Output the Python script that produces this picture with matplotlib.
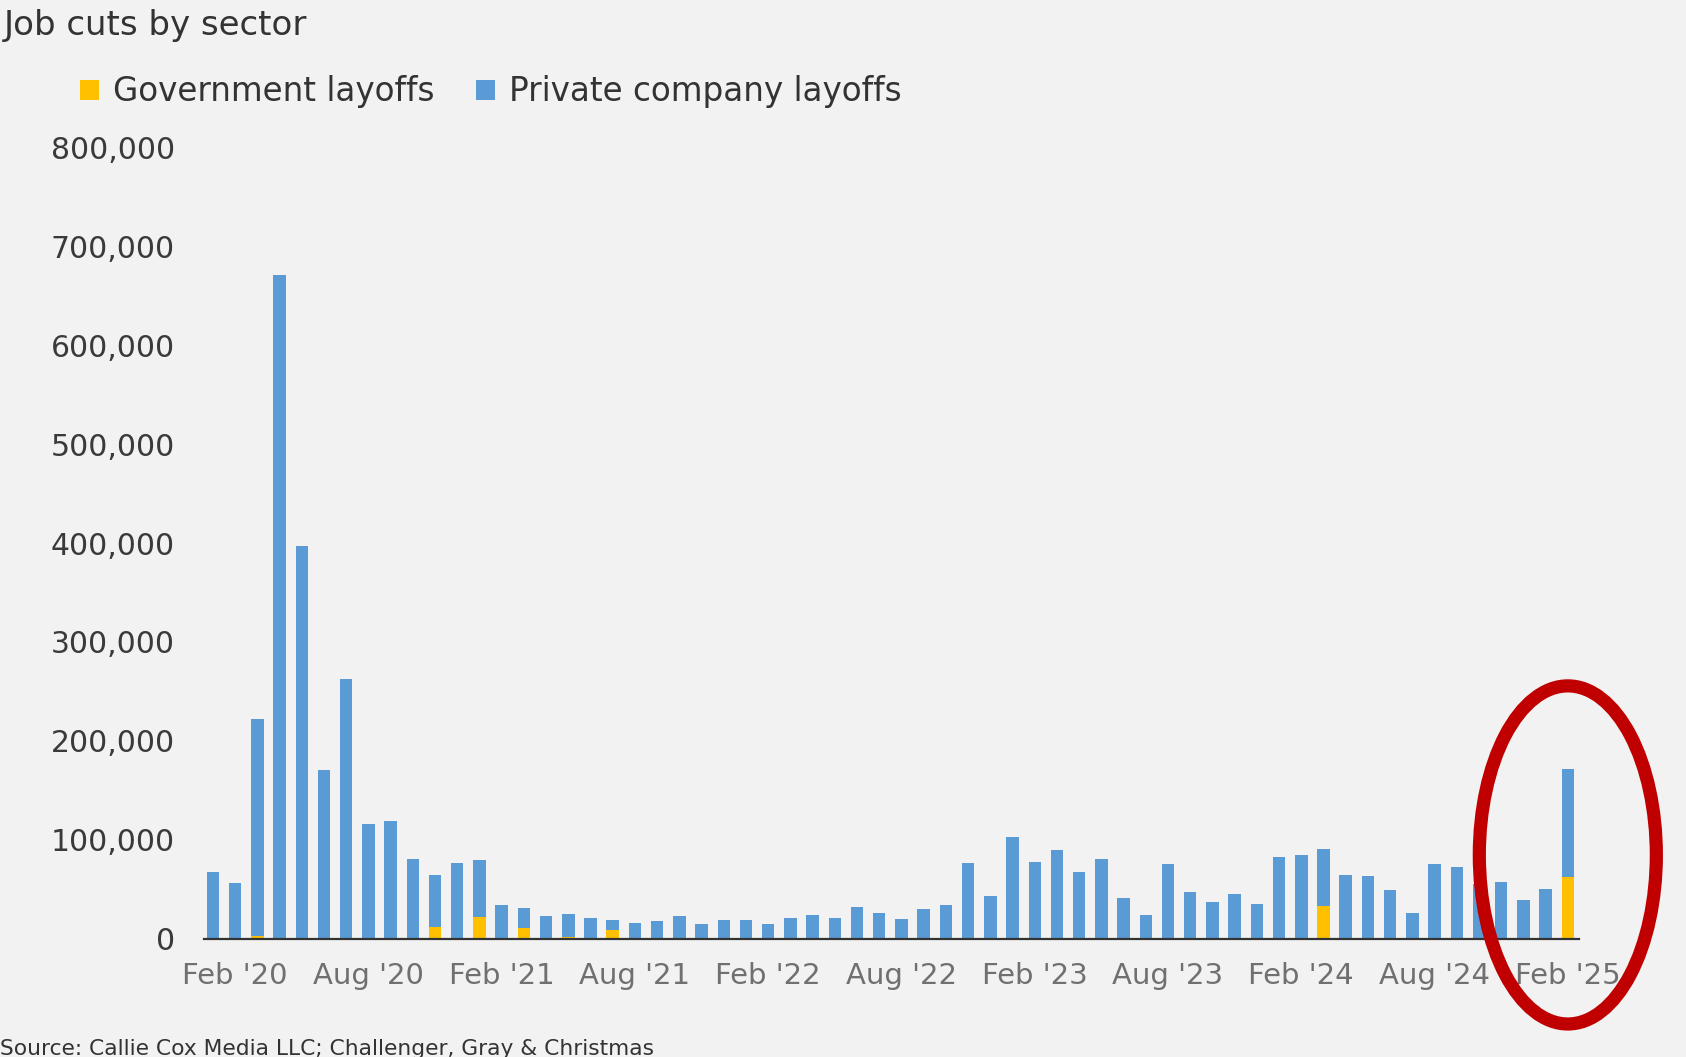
import numpy as np
import matplotlib.pyplot as plt
from matplotlib.patches import Patch, Ellipse

plt.rcParams["font.family"] = ["DejaVu Sans"]

# Monthly job cuts, Jan 2020 .. Feb 2025
months = ["Jan '20", "Feb '20", "Mar '20", "Apr '20", "May '20", "Jun '20",
          "Jul '20", "Aug '20", "Sep '20", "Oct '20", "Nov '20", "Dec '20",
          "Jan '21", "Feb '21", "Mar '21", "Apr '21", "May '21", "Jun '21",
          "Jul '21", "Aug '21", "Sep '21", "Oct '21", "Nov '21", "Dec '21",
          "Jan '22", "Feb '22", "Mar '22", "Apr '22", "May '22", "Jun '22",
          "Jul '22", "Aug '22", "Sep '22", "Oct '22", "Nov '22", "Dec '22",
          "Jan '23", "Feb '23", "Mar '23", "Apr '23", "May '23", "Jun '23",
          "Jul '23", "Aug '23", "Sep '23", "Oct '23", "Nov '23", "Dec '23",
          "Jan '24", "Feb '24", "Mar '24", "Apr '24", "May '24", "Jun '24",
          "Jul '24", "Aug '24", "Sep '24", "Oct '24", "Nov '24", "Dec '24",
          "Jan '25", "Feb '25"]

total_cuts = [67735, 56660, 222288, 671129, 397016, 170219,
              262649, 115762, 118804, 80666, 64797, 77030,
              79552, 34531, 30603, 22913, 24586, 20476,
              18942, 15723, 17895, 22822, 14875, 19052,
              19064, 15245, 21387, 24286, 20712, 32517,
              25810, 20050, 29989, 33843, 76835, 43651,
              102943, 77770, 89703, 66995, 80089, 40709,
              23697, 75151, 47457, 36836, 45510, 34817,
              82307, 84638, 90309, 64789, 63816, 48786,
              25885, 75891, 72821, 55597, 57727, 38792,
              49795, 172017]

gov_cuts = [0, 0, 3000, 0, 0, 0,
            0, 0, 0, 0, 12000, 0,
            22000, 0, 11000, 0, 2000, 0,
            8500, 0, 0, 0, 0, 0,
            0, 0, 0, 0, 0, 0,
            0, 0, 0, 0, 0, 0,
            0, 0, 0, 0, 0, 0,
            0, 0, 0, 0, 0, 0,
            0, 0, 33000, 0, 0, 0,
            0, 0, 0, 0, 0, 0,
            0, 62242]

private_cuts = [t - g for t, g in zip(total_cuts, gov_cuts)]

yticks = [0, 100000, 200000, 300000, 400000, 500000, 600000, 700000, 800000]

BG = "#f2f2f2"
BLUE = "#5b9bd5"
GOLD = "#ffc000"

fig = plt.figure(figsize=(16.86, 10.57), dpi=100, facecolor=BG)
ax = fig.add_axes([0.121, 0.1119, 0.8155, 0.7487], facecolor=BG)

x = np.arange(len(months))
ax.bar(x, gov_cuts, width=0.56, color=GOLD, zorder=2)
ax.bar(x, private_cuts, width=0.56, bottom=gov_cuts, color=BLUE, zorder=2)

ax.set_xlim(-0.4, 61.5)
ax.set_ylim(0, 800000)
ax.set_yticks(yticks)
ax.set_yticklabels([f"{v:,}" for v in yticks])
ax.set_xticks(x[1::6])
ax.set_xticklabels(months[1::6])

for s in ["top", "right", "left"]:
    ax.spines[s].set_visible(False)
ax.spines["bottom"].set_color("#333333")
ax.spines["bottom"].set_linewidth(1.6)
ax.spines["bottom"].set_zorder(3)
ax.tick_params(axis="y", length=0, pad=21, labelsize=21.5, labelcolor="#3a3a3a")
ax.tick_params(axis="x", length=0, pad=16.5, labelsize=21, labelcolor="#707070")

# circle around the latest month
ell = Ellipse((61, 84700), width=7.97, height=341800, fill=False,
              edgecolor="#c00000", linewidth=9.5, clip_on=False, zorder=5)
ax.add_patch(ell)

fig.text(0.002, 0.976, "Job cuts by sector", fontsize=24.5, color="#333333",
         ha="left", va="center")

handles = [Patch(facecolor=GOLD, label="Government layoffs"),
           Patch(facecolor=BLUE, label="Private company layoffs")]
fig.legend(handles=handles, loc="center left", bbox_to_anchor=(0.0474, 0.913),
           ncol=2, frameon=False, fontsize=23.5, labelcolor="#333333",
           handlelength=0.58, handleheight=0.58, handletextpad=0.42,
           columnspacing=1.3, borderpad=0, borderaxespad=0)

fig.text(0.0, 0.008, "Source: Callie Cox Media LLC; Challenger, Gray & Christmas",
         fontsize=15.7, color="#333333", ha="left", va="center")

fig.savefig("out.png", dpi=100, facecolor=BG)
